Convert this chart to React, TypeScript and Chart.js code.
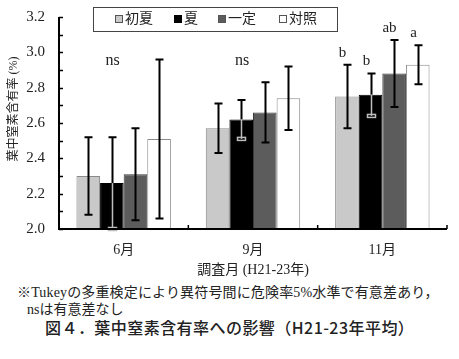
import React, { useEffect, useRef } from "react";
import { Chart, registerables } from "chart.js";
Chart.register(...registerables);

const categories = ["6月", "9月", "11月"];
const seriesNames = ["初夏", "夏", "一定", "対照"];
const shoka = [2.3, 2.57, 2.75];
const natsu = [2.26, 2.62, 2.76];
const ittei = [2.31, 2.66, 2.88];
const taisho = [2.51, 2.74, 2.93];
const shokaErr = [0.22, 0.14, 0.18];
const natsuErr = [0.26, 0.11, 0.12];
const itteiErr = [0.26, 0.17, 0.19];
const taishoErr = [0.45, 0.18, 0.11];
const groupLetters = ["ns", "ns", ""];
const groupLetterValue = 2.95;
const barLetters = [
  ["", "", "", ""],
  ["", "", "", ""],
  ["b", "b", "ab", "a"],
];
const yMin = 2.0;
const yMax = 3.2;
const yStep = 0.2;
const yMinorStep = 0.1;
const yTitle = "葉中窒素含有率 (%)";
const xTitle = "調査月 (H21-23年)";
const footnote1 = "※Tukeyの多重検定により異符号間に危険率5%水準で有意差あり，";
const footnote2 = "nsは有意差なし";
const figTitle = "図４．葉中窒素含有率への影響（H21-23年平均）";

const fills = ["#c9c9c9", "#000000", "#5c5c5c", "#ffffff"];
const borders = ["#8a8a8a", "#000000", "#3a3a3a", "#8a8a8a"];
const SERIF = '"Liberation Serif", "Noto Sans CJK JP", serif';

export default function App() {
  const ref = useRef<HTMLCanvasElement | null>(null);
  useEffect(() => {
    const values = [shoka, natsu, ittei, taisho];
    const errs = [shokaErr, natsuErr, itteiErr, taishoErr];
    const plugin = {
      id: "custom",
      afterDatasetsDraw(chart: any) {
        const ctx = chart.ctx;
        const ys = chart.scales.y;
        const xs = chart.scales.x;
        const area = chart.chartArea;
        ctx.save();
        // error bars
        values.forEach((vals, i) => {
          const meta = chart.getDatasetMeta(i);
          meta.data.forEach((el: any, j: number) => {
            const v = vals[j];
            const e = errs[i][j];
            const x = Math.round(el.x) + 0.5;
            const yT = ys.getPixelForValue(v + e);
            const yB = ys.getPixelForValue(v - e);
            const yBar = ys.getPixelForValue(v);
            const cap = 4;
            ctx.lineWidth = 2;
            if (i === 1) {
              ctx.strokeStyle = "#000";
              ctx.beginPath();
              ctx.moveTo(x, yT);
              ctx.lineTo(x, yBar);
              ctx.moveTo(x - cap, yT);
              ctx.lineTo(x + cap, yT);
              ctx.stroke();
              ctx.strokeStyle = "#bdbdbd";
              ctx.lineWidth = 1.5;
              ctx.beginPath();
              ctx.moveTo(x, yBar);
              ctx.lineTo(x, yB);
              ctx.stroke();
              ctx.strokeRect(x - cap, yB - 1.5, cap * 2, 3);
            } else {
              ctx.strokeStyle = "#000";
              ctx.beginPath();
              ctx.moveTo(x, yT);
              ctx.lineTo(x, yB);
              ctx.moveTo(x - cap, yT);
              ctx.lineTo(x + cap, yT);
              ctx.moveTo(x - cap, yB);
              ctx.lineTo(x + cap, yB);
              ctx.stroke();
            }
            const lt = barLetters[j][i];
            if (lt) {
              ctx.fillStyle = "#222";
              ctx.font = "15px " + SERIF;
              ctx.textAlign = "center";
              ctx.textBaseline = "middle";
              ctx.fillText(lt, x - 5, yT - 12);
            }
          });
        });
        // group letters
        categories.forEach((c, j) => {
          const t = groupLetters[j];
          if (!t) return;
          ctx.fillStyle = "#222";
          ctx.font = "16px " + SERIF;
          ctx.textAlign = "center";
          ctx.textBaseline = "middle";
          ctx.fillText(t, xs.getPixelForValue(j) - 11, ys.getPixelForValue(groupLetterValue));
        });
        // axes
        ctx.strokeStyle = "#000";
        ctx.lineWidth = 2;
        ctx.beginPath();
        ctx.moveTo(area.left, area.top);
        ctx.lineTo(area.left, area.bottom);
        ctx.lineTo(area.right, area.bottom);
        ctx.stroke();
        ctx.lineWidth = 1.5;
        ctx.beginPath();
        for (let v = yMin; v <= yMax + 1e-6; v += yMinorStep) {
          const y = Math.round(ys.getPixelForValue(v)) + 0.5;
          ctx.moveTo(area.left, y);
          ctx.lineTo(area.left + 4, y);
        }
        const n = categories.length;
        const w = (area.right - area.left) / n;
        for (let k = 1; k <= n; k++) {
          const x = area.left + w * k;
          ctx.moveTo(x, area.bottom);
          ctx.lineTo(x, area.bottom - 4);
        }
        ctx.stroke();
        // y title
        ctx.save();
        ctx.translate(14, 109);
        ctx.rotate(-Math.PI / 2);
        ctx.fillStyle = "#222";
        ctx.font = "12px " + SERIF;
        ctx.textAlign = "center";
        ctx.textBaseline = "middle";
        ctx.fillText(yTitle, 0, 0);
        ctx.restore();
        // legend
        ctx.fillStyle = "#fff";
        ctx.fillRect(93, 7, 244, 24);
        ctx.strokeStyle = "#444";
        ctx.lineWidth = 1;
        ctx.strokeRect(93.5, 7.5, 244, 24);
        const lx = [115, 174, 218, 279];
        seriesNames.forEach((s, i) => {
          ctx.fillStyle = fills[i];
          ctx.fillRect(lx[i], 15, 8, 8);
          ctx.strokeStyle = i === 1 ? "#000" : "#555";
          ctx.strokeRect(lx[i] + 0.5, 15.5, 7, 7);
          ctx.fillStyle = "#222";
          ctx.font = "14px " + SERIF;
          ctx.textAlign = "left";
          ctx.textBaseline = "middle";
          ctx.fillText(s, lx[i] + 10, 19.5);
        });
        ctx.restore();
      },
    };
    const chart = new Chart(ref.current as HTMLCanvasElement, {
      type: "bar",
      data: {
        labels: categories,
        datasets: seriesNames.map((s, i) => ({
          label: s,
          data: values[i],
          backgroundColor: fills[i],
          borderColor: borders[i],
          borderWidth: 1,
          borderSkipped: "bottom" as any,
          categoryPercentage: 0.73,
          barPercentage: 1,
        })),
      },
      options: {
        responsive: false,
        animation: false,
        layout: { padding: { top: 17, right: 12, left: 0, bottom: 0 } },
        plugins: { legend: { display: false }, tooltip: { enabled: false } },
        scales: {
          x: {
            grid: { display: false },
            border: { display: false },
            ticks: { color: "#222", font: { family: SERIF, size: 14 }, padding: 5 },
            title: {
              display: true,
              text: xTitle,
              color: "#222",
              font: { family: SERIF, size: 14 },
              padding: { top: 0, bottom: 1 },
            },
            afterFit: (s: any) => {
              s.height = 51;
            },
          },
          y: {
            min: yMin,
            max: yMax,
            grid: { display: false },
            border: { display: false },
            ticks: {
              stepSize: yStep,
              color: "#222",
              font: { family: SERIF, size: 15 },
              padding: 6,
              callback: (v: any) => Number(v).toFixed(1),
            },
            afterFit: (s: any) => {
              s.width = 59;
            },
          },
        },
      },
      plugins: [plugin],
    });
    return () => chart.destroy();
  }, []);
  return (
    <div style={{ position: "fixed", left: 0, top: 0, width: 459, height: 359, background: "#fff" }}>
      <canvas ref={ref} width={459} height={280} style={{ display: "block" }} />
      <div style={{ position: "absolute", left: 17, top: 284, fontFamily: SERIF, fontSize: 14, letterSpacing: "0.15px", color: "#222", whiteSpace: "nowrap", lineHeight: "17px" }}>
        {footnote1}
      </div>
      <div style={{ position: "absolute", left: 27, top: 301, fontFamily: SERIF, fontSize: 14, color: "#222", whiteSpace: "nowrap", lineHeight: "17px" }}>
        {footnote2}
      </div>
      <div style={{ position: "absolute", left: 45, top: 317, fontFamily: '"Noto Sans CJK JP", sans-serif', fontSize: 16, letterSpacing: "0.45px", fontWeight: 500, color: "#222", whiteSpace: "nowrap", lineHeight: "20px" }}>
        {figTitle}
      </div>
    </div>
  );
}
